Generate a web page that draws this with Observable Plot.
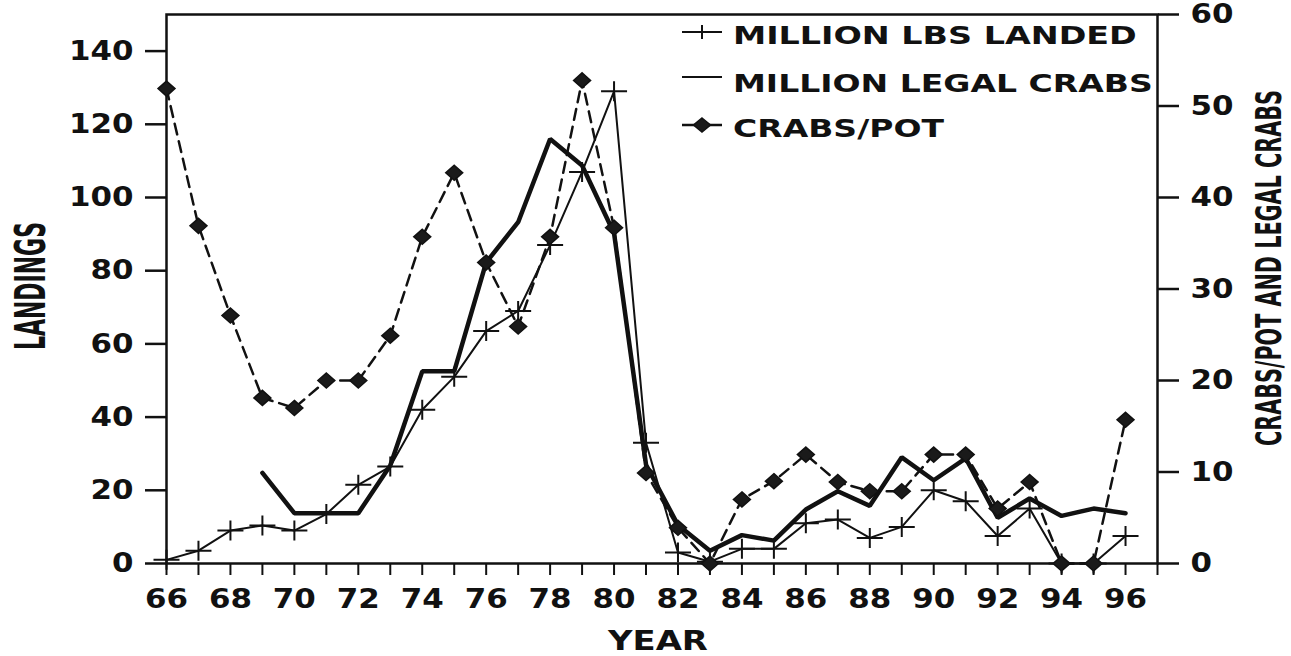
<!DOCTYPE html>
<html>
<head>
<meta charset="utf-8">
<script src="https://cdn.jsdelivr.net/npm/d3@7"></script>
<script src="https://cdn.jsdelivr.net/npm/@observablehq/plot@0.6"></script>
<style>
  html, body { margin: 0; padding: 0; background: #fff; overflow: hidden; }
  #chart { position: relative; width: 1291px; height: 656px; }
</style>
</head>
<body>
<div id="chart"></div>
<script>
// ---- Data ----
const years = d3.range(1966, 1997).map(y => y - 1900); // 66..96

// Million lbs landed (left axis)
const landedValues = [1, 3.5, 9, 10.4, 9, 13.5, 21.5, 26.5, 42, 51, 63.5, 69, 87, 107, 129,
                      33, 3, 0.5, 4, 4, 11, 12, 7, 10, 20, 17, 7.5, 15, 0, 0, 7.5];

// Million legal crabs (right axis), starts in 69
const legalYears = d3.range(69, 97);
const legalValues = [9.9, 5.5, 5.5, 5.5, 10.7, 21, 21, 32.9, 37.3, 46.4, 43.5, 36.1,
                     10.8, 4.2, 1.4, 3.1, 2.5, 5.9, 7.9, 6.3, 11.6, 9.1, 11.5, 5, 7.1, 5.2, 6, 5.5];

// Crabs per pot (right axis)
const cppValues = [51.9, 36.9, 27.1, 18.1, 17, 20, 20, 24.9, 35.7, 42.7, 32.9, 25.9, 35.7, 52.8, 36.7,
                   9.9, 3.9, 0, 7, 9, 11.9, 8.9, 7.9, 7.9, 11.9, 11.9, 6, 8.9, 0, 0, 15.7];

const leftTicks = [0, 20, 40, 60, 80, 100, 120, 140];
const rightTicks = [0, 10, 20, 30, 40, 50, 60];
const xTicks = d3.range(66, 98);
const legendLabels = ["MILLION LBS LANDED", "MILLION LEGAL CRABS", "CRABS/POT"];

// ratio between left axis units and right axis units (150 left == 60 right)
const RATIO = 150 / 60;

const landed = years.map((year, i) => ({year, v: landedValues[i]}));
const legal = legalYears.map((year, i) => ({year, v: legalValues[i]}));
const cpp = years.map((year, i) => ({year, v: cppValues[i]}));

// custom symbols
const plusSym = {
  draw(ctx, size) {
    const r = Math.sqrt(size / Math.PI);
    ctx.moveTo(-r * 1.3, 0); ctx.lineTo(r * 1.3, 0);
    ctx.moveTo(0, -r); ctx.lineTo(0, r);
  }
};
const diamondSym = {
  draw(ctx, size) {
    const r = Math.sqrt(size / Math.PI);
    const w = r * 1.06, h = r * 0.94;
    ctx.moveTo(0, -h); ctx.lineTo(w, 0); ctx.lineTo(0, h); ctx.lineTo(-w, 0); ctx.closePath();
  }
};

const TICKFONT = "'DejaVu Sans', sans-serif";

const plot = Plot.plot({
  width: 1291,
  height: 656,
  marginLeft: 166,
  marginRight: 134,
  marginTop: 14,
  marginBottom: 93,
  style: {fontFamily: TICKFONT, fontSize: "27px", fontWeight: "bold", color: "#111", background: "#fff", overflow: "visible"},
  x: {domain: [66, 97]},
  y: {domain: [0, 150]},
  marks: [
    Plot.axisY({anchor: "left", ticks: leftTicks, tickSize: 21, tickPadding: 12, strokeWidth: 2.5, label: null}),
    Plot.axisY({anchor: "right", ticks: rightTicks.map(v => v * RATIO), tickFormat: d => Math.round(d / RATIO), tickSize: 21, tickPadding: 12, strokeWidth: 2.5, label: null}),
    Plot.axisX({ticks: xTicks, tickFormat: d => (d % 2 === 0 && d <= 96) ? d : "", tickSize: 12, tickPadding: 13, strokeWidth: 2, label: null}),
    Plot.frame({stroke: "#111", strokeWidth: 2.5}),
    // landings
    Plot.line(landed, {x: "year", y: "v", stroke: "#111", strokeWidth: 2}),
    Plot.dot(landed, {x: "year", y: "v", symbol: plusSym, r: 10, stroke: "#111", strokeWidth: 2, fill: "none"}),
    // legal crabs
    Plot.line(legal, {x: "year", y: d => d.v * RATIO, stroke: "#111", strokeWidth: 4.5, strokeLinejoin: "miter"}),
    // crabs per pot
    Plot.line(cpp, {x: "year", y: d => d.v * RATIO, stroke: "#111", strokeWidth: 2.5, strokeDasharray: "11,7"}),
    Plot.dot(cpp, {x: "year", y: d => d.v * RATIO, symbol: diamondSym, r: 8, fill: "#1a1a1a", stroke: "#111", strokeWidth: 1.5})
  ]
});

document.getElementById("chart").appendChild(plot);

const svg = d3.select(plot);

// widen the tick labels to match the wide face of the original
svg.selectAll("g[aria-label$='tick label'] text").each(function() {
  const t = this.textContent;
  if (t && t.length) {
    d3.select(this).attr("textLength", t.length * 21.5).attr("lengthAdjust", "spacingAndGlyphs");
  }
});

// helper: place a text so that its advance equals `len`, by scaling along the text direction
function fitText(parent, {x, y, rotate = 0, len, size, family, weight = "bold", text}) {
  const t = parent.append("text")
    .attr("text-anchor", "start")
    .attr("font-family", family).attr("font-size", size).attr("font-weight", weight)
    .attr("fill", "#111").attr("stroke", "none")
    .text(text);
  const natural = t.node().getComputedTextLength() || len;
  const k = len / natural;
  t.attr("transform", `translate(${x},${y}) rotate(${rotate}) scale(${k},1)`);
  return t;
}

// ---- Legend (inside plot, top right) ----
const lg = svg.append("g").attr("fill", "#111").attr("stroke", "#111");
const legendRows = [
  {base: 44, sym: 32, len: 404},
  {base: 92, sym: 77, len: 420},
  {base: 137, sym: 125, len: 211}
];
legendRows.forEach((row, i) => {
  lg.append("line").attr("x1", 682).attr("x2", 722).attr("y1", row.sym).attr("y2", row.sym)
    .attr("stroke-width", i === 2 ? 2.5 : 2);
  if (i === 0) {
    lg.append("line").attr("x1", 702).attr("x2", 702).attr("y1", row.sym - 7).attr("y2", row.sym + 7).attr("stroke-width", 2);
  }
  if (i === 2) {
    lg.append("path").attr("d", `M702,${row.sym - 7}L710.5,${row.sym}L702,${row.sym + 7}L693.5,${row.sym}Z`)
      .attr("fill", "#1a1a1a").attr("stroke-width", 1.5);
  }
  fitText(lg, {x: 733, y: row.base, len: row.len, size: 24, family: TICKFONT, text: legendLabels[i]});
});

// ---- Axis titles ----
const NARROW = "'DejaVu Sans Condensed', 'Liberation Sans Narrow', 'Liberation Sans', sans-serif";
fitText(svg, {x: 45, y: 350, rotate: -90, len: 128, size: 43, family: NARROW, text: "LANDINGS"});
fitText(svg, {x: 1281, y: 446, rotate: -90, len: 356, size: 36, family: NARROW, text: "CRABS/POT AND LEGAL CRABS"});
fitText(svg, {x: 608, y: 650, len: 100, size: 26, family: TICKFONT, text: "YEAR"});
</script>
</body>
</html>
